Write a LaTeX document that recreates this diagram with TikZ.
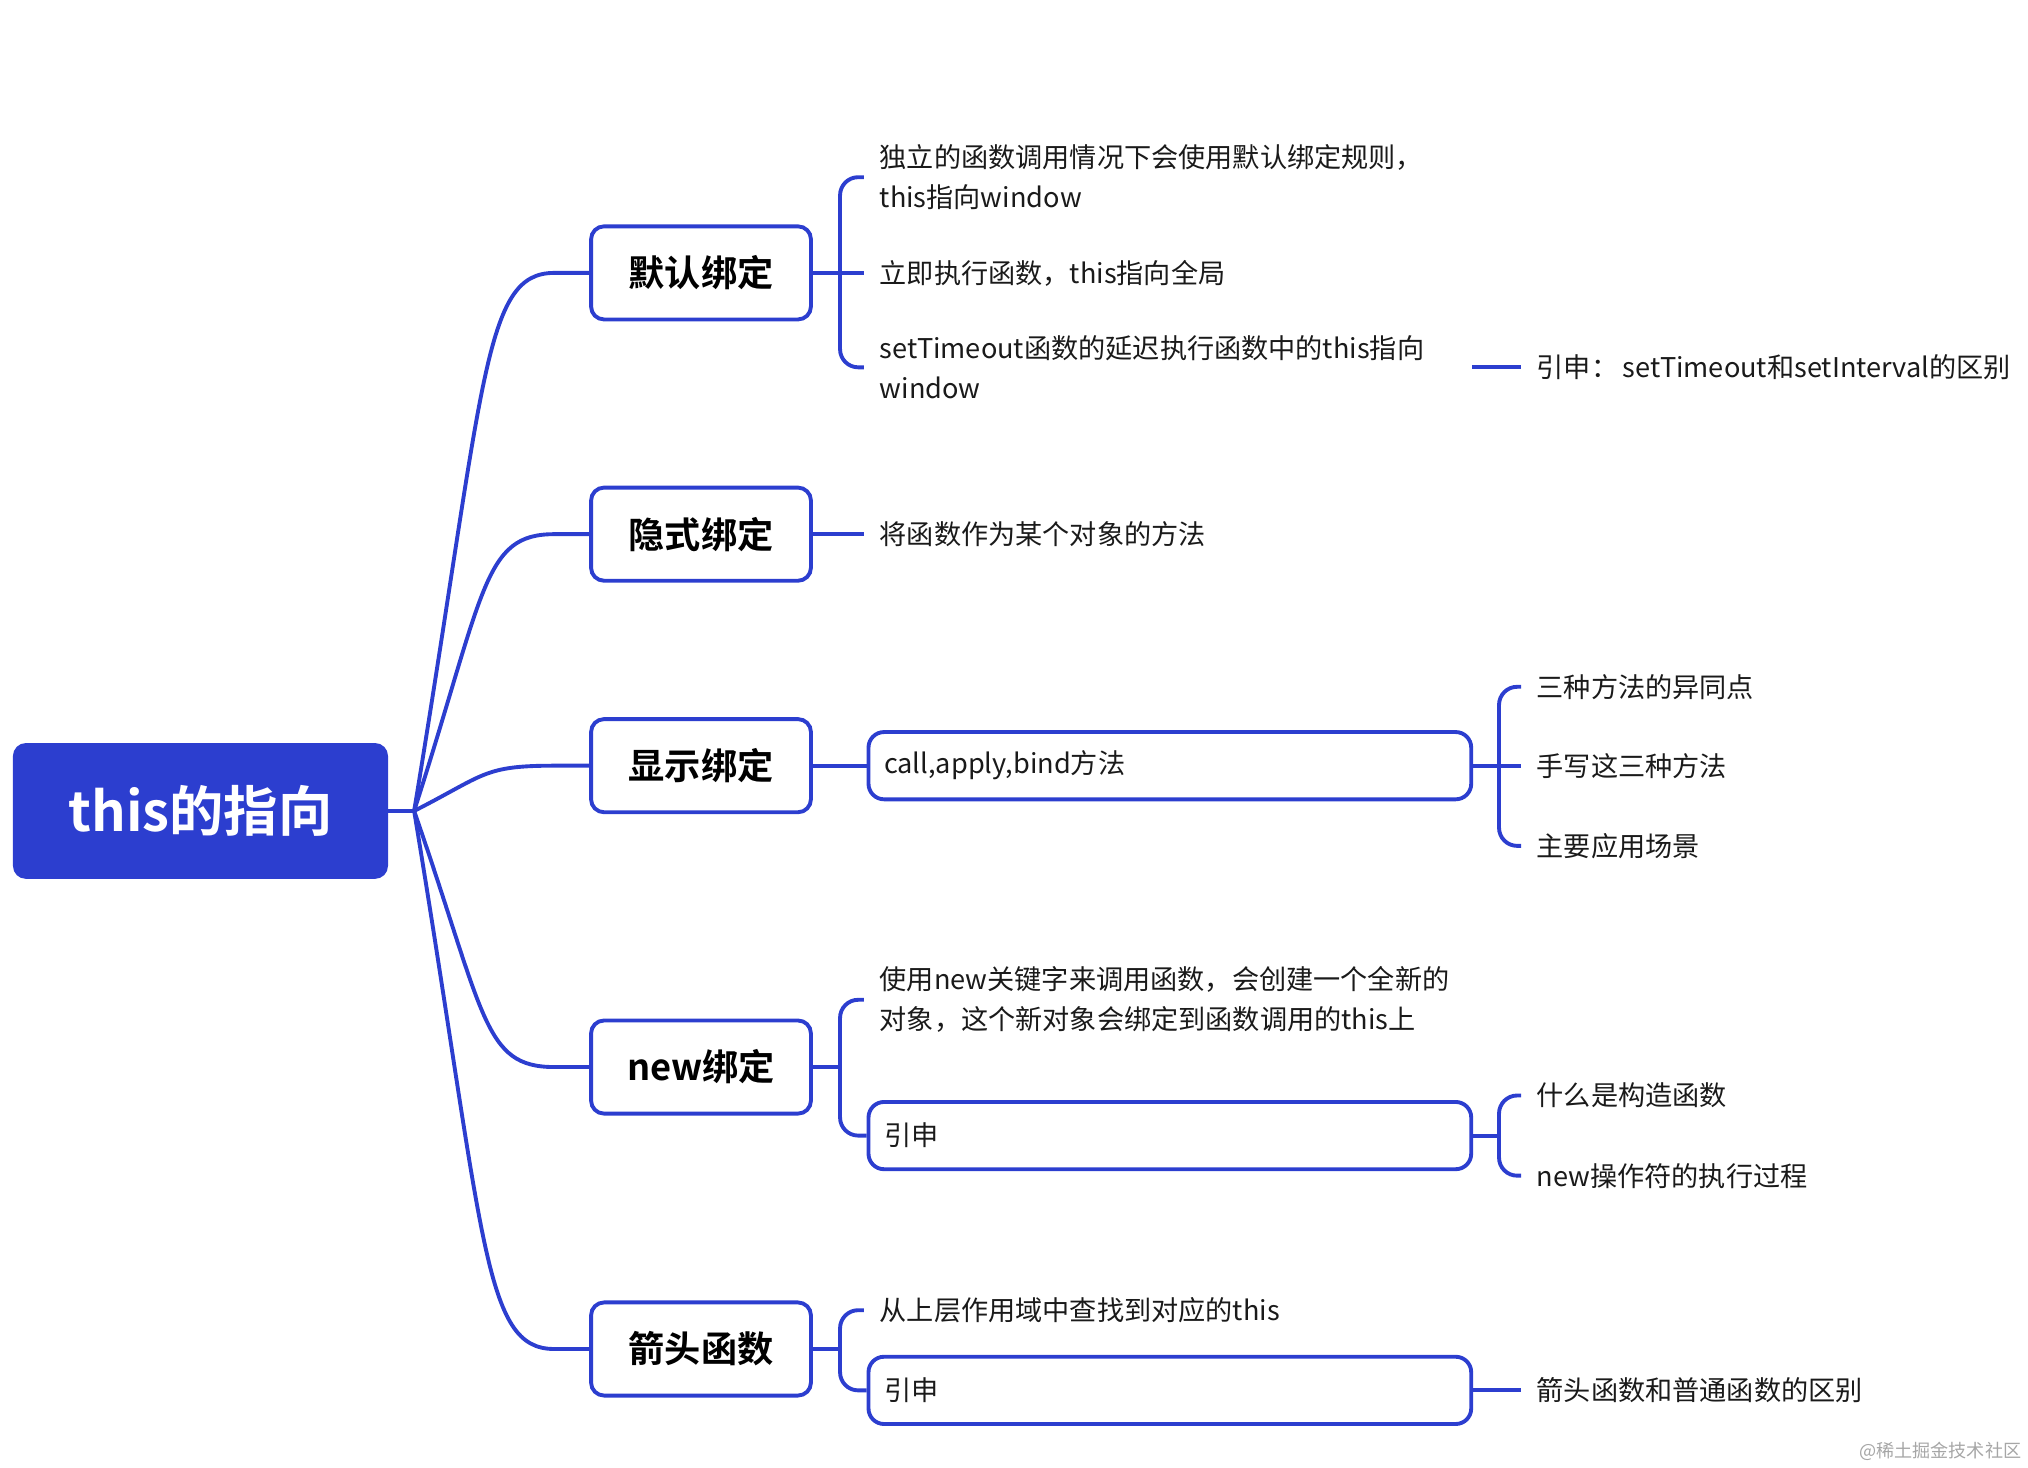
\documentclass[tikz,border=0pt]{standalone}
\usepackage{fontspec}
\setmainfont{Noto Sans CJK SC}[BoldFont={Noto Sans CJK SC Bold}]
\usetikzlibrary{calc}
\definecolor{mblue}{HTML}{2C3ECF}
\definecolor{mtext}{HTML}{1A1A1A}
\begin{document}
\begin{tikzpicture}[x=1pt,y=-1pt,
 conn/.style={draw=mblue, line width=3pt},
 brk/.style={conn, rounded corners=14pt},
 root/.style={fill=mblue, rounded corners=10pt, minimum width=290pt, minimum height=105pt, inner sep=0pt, text=white, font=\fontsize{42}{48}\selectfont\bfseries},
 lone/.style={draw=mblue, line width=3pt, fill=white, rounded corners=10pt, minimum width=170pt, minimum height=72pt, inner sep=0pt, text=black, font=\fontsize{28}{32}\selectfont\bfseries},
 leaf/.style={anchor=west, inner sep=0pt, text=mtext, align=left, font=\fontsize{21}{31}\selectfont},
 lbox/.style={anchor=west, draw=mblue, line width=3pt, rounded corners=12pt, text width=442pt, inner xsep=12pt, inner ysep=0pt, minimum height=52pt, align=left, text=mtext, font=\fontsize{21}{31}\selectfont},
]
\useasboundingbox (0,0) rectangle (1568,1135);

\node[root] (root) at (155,627) {this的指向};
\node[lone] (n1) at (542,211) {默认绑定};
\node[lone] (n2) at (542,413) {隐式绑定};
\node[lone] (n3) at (542,592) {显示绑定};
\node[lone] (n4) at (542,825) {new绑定};
\node[lone] (n5) at (542,1043) {箭头函数};

\coordinate (rj) at ($(root.east)+(20,0)$);
\draw[conn] (root.east) -- (rj);
\foreach \n in {n1,n2,n3,n4,n5}{
  \draw[conn] (rj) .. controls ($(\n.west -| rj)!0.2!(rj)+(55,0)$) and ($(\n.west)+(-82,0)$) .. ($(\n.west)+(-27,0)$) -- (\n.west);
}

% group 1
\node[leaf] (a1) at (680,137) {独立的函数调用情况下会使用默认绑定规则，\\this指向window};
\node[leaf] (a2) at (680,211) {立即执行函数，this指向全局};
\node[leaf, text width=448pt] (a3) at (680,284) {setTimeout函数的延迟执行函数中的this指向\\window};
\coordinate (j1) at ($(n1.east)+(21,0)$);
\draw[conn] (n1.east) -- ([xshift=-12pt]a2.west);
\draw[brk] ([xshift=-12pt]a1.west) -| (j1) |- ([xshift=-12pt]a3.west);
\node[leaf] (r1) at (1188,284) {引申：\,setTimeout和setInterval的区别};
\draw[conn] ([xshift=10pt]a3.east) -- ([xshift=-12pt]r1.west);

% group 2
\node[leaf] (b1) at (680,413) {将函数作为某个对象的方法};
\draw[conn] (n2.east) -- ([xshift=-12pt]b1.west);

% group 3
\node[lbox] (c0) at (670,592) {call,apply,bind方法};
\draw[conn] (n3.east) -- (c0.west);
\node[leaf] (c1) at (1188,531) {三种方法的异同点};
\node[leaf] (c2) at (1188,592) {手写这三种方法};
\node[leaf] (c3) at (1188,654) {主要应用场景};
\coordinate (j3) at ($(c0.east)+(20,0)$);
\draw[conn] (c0.east) -- ([xshift=-12pt]c2.west);
\draw[brk] ([xshift=-12pt]c1.west) -| (j3) |- ([xshift=-12pt]c3.west);

% group 4
\node[leaf] (d1) at (680,773) {使用new关键字来调用函数，会创建一个全新的\\对象，这个新对象会绑定到函数调用的this上};
\node[lbox] (d2) at (670,878) {引申};
\coordinate (j4) at ($(n4.east)+(21,0)$);
\draw[conn] (n4.east) -- (j4);
\draw[brk] ([xshift=-12pt]d1.west) -| (j4) |- (d2.west);
\node[leaf] (d3) at (1188,847) {什么是构造函数};
\node[leaf] (d4) at (1188,909) {new操作符的执行过程};
\coordinate (j4b) at ($(d2.east)+(20,0)$);
\draw[conn] (d2.east) -- (j4b);
\draw[brk] ([xshift=-12pt]d3.west) -| (j4b) |- ([xshift=-12pt]d4.west);

% group 5
\node[leaf] (e1) at (680,1013) {从上层作用域中查找到对应的this};
\node[lbox] (e2) at (670,1075) {引申};
\coordinate (j5) at ($(n5.east)+(21,0)$);
\draw[conn] (n5.east) -- (j5);
\draw[brk] ([xshift=-12pt]e1.west) -| (j5) |- (e2.west);
\node[leaf] (e3) at (1188,1075) {箭头函数和普通函数的区别};
\draw[conn] (e2.east) -- ([xshift=-12pt]e3.west);

\node[anchor=east, inner sep=0pt, text=black!35, font=\fontsize{14}{16}\selectfont] (wm) at (1563,1122) {@稀土掘金技术社区};
\end{tikzpicture}
\end{document}
